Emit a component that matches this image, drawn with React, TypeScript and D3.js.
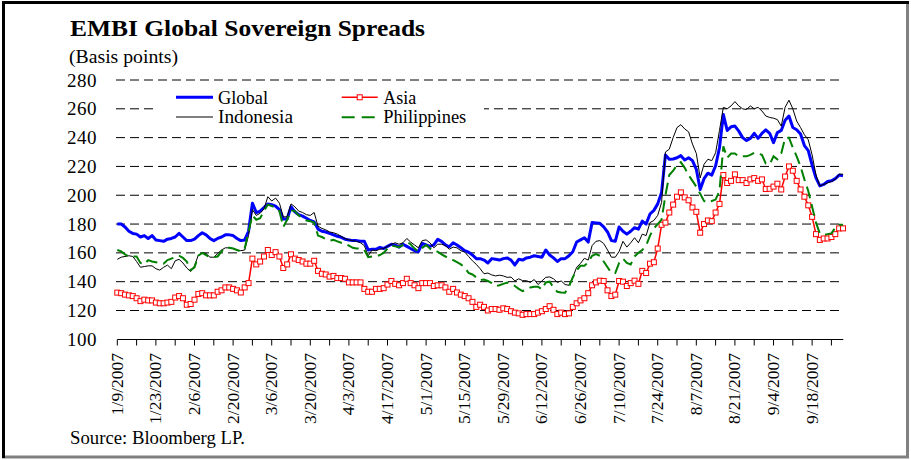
import React from "react";
import * as d3 from "d3";

const startDate = "1/9/2007"; // business days, 1/9/2007 - 9/28/2007
const tickLabels = ["1/9/2007","1/23/2007","2/6/2007","2/20/2007","3/6/2007","3/20/2007","4/3/2007","4/17/2007","5/1/2007","5/15/2007","5/29/2007","6/12/2007","6/26/2007","7/10/2007","7/24/2007","8/7/2007","8/21/2007","9/4/2007","9/18/2007"];
const yTicks = [100,120,140,160,180,200,220,240,260,280];

const globalS = [
180,180,178,175,173.5,173,171,172,170,172,169,168.5,168,169.5,170,171,173.5,171,168.5,168.5,169.5,172,174,172.5,170,168.5,170,171,172.5,172.5,172,170,
168.5,169,175,194.5,188,189,191.5,194,193.5,192.5,190,183.5,183.5,192,188.5,186.5,185.5,184,182.5,181.5,176.5,175,174.5,173.5,172.5,171.5,170.8,169.5,169,168.5,168.5,
168,168,162,162.5,162.5,163.8,163,164.5,166,165.5,164,166,164.5,163,161.5,160.8,166.5,165.5,164.5,165.5,169.4,168,165.5,164.2,167,165.5,163.5,161.5,160.5,158.5,156,156,
155,153,156,155.5,155,156,156.5,155,151.6,155.5,155,156.5,157,158,157.5,157,162,158.5,156.5,154,156,156,158,160.8,167.5,169,170.5,167.5,181,180.8,180.5,178,
174.5,168.5,168,178,175,173,175,177.5,176.5,182,180,187,189.5,194,202,228,225,225.2,226,227.5,224.5,226,224,218,204,211.5,215.3,214,220.5,233,256,
245,247.5,248,244.5,240,238,239.5,243,239.5,243,245.4,243,236.5,243.5,245,252,255,247,245.5,242.5,234.5,231,221,212,206.5,207.5,209.5,210,211.5,214,213.5
];

const indonesia = [
155.5,157,157.5,158,157.5,154,150,150.5,151,151,149,148,150,151.5,149,154.5,155.5,153,149.5,147,151,158.5,160,159.5,157,157,159.5,162,163.5,163.5,163,162,
161.5,162,172,190,186,187.5,190.5,199,196,198,194.5,185,185,194,192,189,188,186.5,186,188,178.5,177,176,174.5,174,173,171.5,170,169,168.5,168,
167,165,158,162,161.5,162.5,163,164.5,166,167,166,167,170,167.5,165.5,163.5,168.5,169,167,163.5,166,166,165,162.5,164,163.5,161.5,160.5,157.5,154.5,152,149,
145.5,146,144.7,144,144.5,144,143,143.2,140.5,142,140.7,140.7,139.5,141.5,138,140.5,143,143.3,142,139.5,140.5,138,137.5,143,150,152.7,156.2,155,165,168,168.5,166.5,
162,157,157,161,168,164,167,170.5,167,173,172,181,182.5,186,195,230,232,240,247,249,246,244,235.5,229,212,221.5,225,224,229.5,245,261,
260,262,265,262,260,259.5,262,260,261,258.5,255,254,253.5,252.5,248,261,266,260,251.5,247,242,238.5,228,214,206.5,207.5,208.5,209.5,211,214.6,214.6
];

const philippines = [
162,161,159,157.5,157.5,157.5,153,152,155,154,153.5,153,152.5,155,156,157,158,156.5,154,148,150,158,160,158.5,157,157,157.5,161,163.5,163.5,163,162,
161,163,175,186,183,184,189,193.5,192.5,191.5,189,178,183,189.5,189,186,184,182.5,182,181,172,171,169.5,168.5,169,168,167,166.5,165,163.5,163,
163,162,157,157.5,157.5,158.5,160,163,165,164.5,164,165.5,167.5,166,163,161,163.5,165.5,163,161,160.8,159,157.5,156.5,155,153.5,152,150,146,145,143,141,
141.5,140.5,139,137,137.5,138.5,139.4,138.5,137,135,133.5,134.5,136,136.5,136.5,134.7,139.5,140,136,133,132.5,132.4,136.5,143,148,151,151,153.5,158,159.2,158,154,
150,146,146,153,156,153,152,157.5,160,162,165,172,177,180,183,200,214,217,221,223,219,214,210,206,201,196,195,196,197,203,234,
226,229,229,227,227,227,228,229.5,229,228,222,221.5,227,225,229,239.5,240,233,227,220,211,203,192,181,173.5,172.5,173,173.5,177.5,179.5,179.5
];

const asia = [
132.4,132,131,130.5,130,128.5,126.5,127.5,127,127,125.5,125,125,125.5,126,129,130,128.5,124,124.5,127.5,131.5,132,130.5,130.5,130.5,133,134,136,136,135,134,
132.5,136,139,156,152,154,157.5,162,158.5,160.5,157.5,149.5,152,159,156,155,154,152.5,152.5,154.5,147.5,145.5,145,143.5,144,142.5,142.5,142,139.5,139.5,139.5,
139.5,135,133,133,135,135,135.5,138,140.5,138.5,137.5,139,142,139,137.5,135.5,139,139,139,137,137.5,137.5,136,133,135,132.5,131,130,128.5,126,122.5,124,
122.5,120,121,121,120.5,121.5,121,119.5,118.5,118,117,117.5,117.5,117.5,118.5,119.5,121,123,120.5,117.5,118.5,117.5,118,122.5,125,127,128.5,132,137.5,139.5,140.7,140.5,
134,130,131,140.5,140,137,139,140.7,138.5,147.5,146,152.5,153.5,163,179.5,181,188,193.5,199,202,198.5,196.5,191.5,188.5,174,180,182.5,182,188,194,214,
208.5,210,214.5,210.5,210.5,208.5,211,211.9,210,211,204.3,204.5,206,208,204,213,220,217,210,204,199,193,185,173,169,170,170,171,173,177,177
];

const FONT = '"Liberation Serif", "Times New Roman", serif';

export default function App() {
  const N = globalS.length;
  const W = 911, H = 460;
  const x = d3.scaleLinear().domain([0, N - 1]).range([117.3, 843]);
  const y = d3.scaleLinear().domain([100, 280]).range([339.3, 80]);
  const line = d3.line<number>().x((_, i) => x(i)).y((d) => y(d));
  const tickIdx = d3.range(0, N - 2, 5);

  return (
    <div style={{ position: "absolute", left: 0, top: 0 }}>
      <svg width={W} height={H} style={{ display: "block", background: "#fff" }} fontFamily={FONT}>
        <rect x={0} y={0} width={W} height={H} fill="#fff" />
        {/* frame */}
        <rect x={2} y={455.5} width={907} height={3} fill="#808080" />
        <rect x={906} y={1} width={3} height={457} fill="#808080" />
        <rect x={2} y={1} width={907} height={3} fill="#000" />
        <rect x={2} y={1} width={3} height={457} fill="#000" />

        <text x={70} y={36} fontSize={23} fontWeight="bold" textLength={355} lengthAdjust="spacingAndGlyphs">EMBI Global Sovereign Spreads</text>
        <text x={69} y={63} fontSize={19} textLength={109} lengthAdjust="spacingAndGlyphs">(Basis points)</text>

        {/* gridlines */}
        {yTicks.filter((t) => t > 100).map((t) => (
          <line key={t} x1={116} x2={843} y1={y(t)} y2={y(t)} stroke="#000" strokeWidth={1} strokeDasharray="9,5" />
        ))}
        {/* y labels */}
        {yTicks.map((t) => (
          <text key={t} x={97} y={y(t) + 6.5} fontSize={19} textAnchor="end" letterSpacing={0.5}>{t}</text>
        ))}

        {/* x axis */}
        <line x1={117.3} x2={843.3} y1={339.5} y2={339.5} stroke="#000" strokeWidth={1} />
        {tickIdx.map((i) => (
          <line key={i} x1={x(i)} x2={x(i)} y1={339.5} y2={345.5} stroke="#000" strokeWidth={1} />
        ))}
        {tickLabels.map((lab, k) => (
          <text key={lab} transform={`translate(${x(k * 10) + 5.5},353) rotate(-90)`} fontSize={17.5} textAnchor="end">{lab}</text>
        ))}

        {/* series */}
        <path d={line(globalS) || ""} fill="none" stroke="#0000FF" strokeWidth={3} strokeLinejoin="round" />
        <path d={line(asia) || ""} fill="none" stroke="#FF0000" strokeWidth={1.5} />
        {asia.map((v, i) => (
          <rect key={i} x={x(i) - 2.5} y={y(v) - 2.5} width={5} height={5} fill="#fff" stroke="#FF0000" strokeWidth={1} />
        ))}
        <path d={line(indonesia) || ""} fill="none" stroke="#000" strokeWidth={1} />
        <path d={line(philippines) || ""} fill="none" stroke="#008000" strokeWidth={2} strokeDasharray="12,6" />

        {/* legend */}
        <rect x={157} y={86} width={327} height={44} fill="#fff" />
        <line x1={176} x2={213} y1={97.3} y2={97.3} stroke="#0000FF" strokeWidth={3} />
        <text x={218} y={103.5} fontSize={19} textLength={50} lengthAdjust="spacingAndGlyphs">Global</text>
        <line x1={176} x2={213} y1={117} y2={117} stroke="#000" strokeWidth={1} />
        <text x={218} y={123} fontSize={19} textLength={75} lengthAdjust="spacingAndGlyphs">Indonesia</text>
        <line x1={341.7} x2={377.7} y1={97.3} y2={97.3} stroke="#FF0000" strokeWidth={1.5} />
        <rect x={357.2} y={94.8} width={5} height={5} fill="#fff" stroke="#FF0000" strokeWidth={1} />
        <text x={383.3} y={103.5} fontSize={19} textLength={33} lengthAdjust="spacingAndGlyphs">Asia</text>
        <line x1={341.7} x2={377.7} y1={117.3} y2={117.3} stroke="#008000" strokeWidth={2} strokeDasharray="13,7" />
        <text x={383.3} y={123} fontSize={19} textLength={83} lengthAdjust="spacingAndGlyphs">Philippines</text>

        <text x={70} y={444} fontSize={18} textLength={175} lengthAdjust="spacingAndGlyphs">Source: Bloomberg LP.</text>
      </svg>
    </div>
  );
}
